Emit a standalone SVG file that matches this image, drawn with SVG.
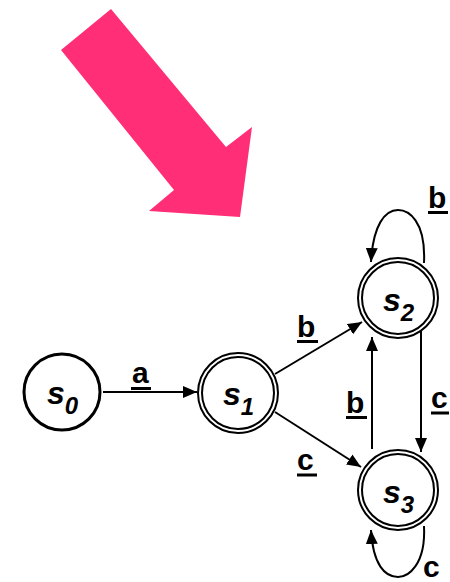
<svg xmlns="http://www.w3.org/2000/svg" width="450" height="582" viewBox="0 0 450 582">
<defs>
<marker id="ah" viewBox="0 0 14 12" refX="14" refY="6" markerWidth="14" markerHeight="12" markerUnits="userSpaceOnUse" orient="auto">
<path d="M0,0 L14,6 L0,12 Z" fill="#000"/>
</marker>
<style>
.st{fill:#fff;stroke:#000}
.edge{fill:none;stroke:#000;stroke-width:2;marker-end:url(#ah)}
.nm{font-family:"Liberation Sans",Arial,sans-serif;font-weight:bold;font-style:italic;font-size:32px;fill:#000}
.sub{font-size:24px}
.lbl{font-family:"Liberation Sans",Arial,sans-serif;font-weight:bold;font-size:30px;fill:#000}
.ul{stroke:#000;stroke-width:3}
</style>
</defs>
<polygon id="pointer" points="61,50 111,9 226,147 252,127 240,217 149,211 174,190" fill="#FF2E77"/>
<g id="connectors">
<line class="edge" x1="103" y1="392" x2="197" y2="392"/>
<line class="edge" x1="275" y1="374" x2="362" y2="322"/>
<line class="edge" x1="275" y1="412" x2="361" y2="467"/>
<line class="edge" x1="372" y1="449" x2="372" y2="337"/>
<line class="edge" x1="421" y1="330" x2="421" y2="452"/>
<path class="edge" d="M424,263 C426,220 408,210 398,210 C385,210 373,225 371,262"/>
<path class="edge" d="M424,526 C426,565 408,577 398,577 C385,577 373,565 371,530"/>
<text class="lbl" x="132" y="383">a</text><line class="ul" x1="131" y1="388.5" x2="151" y2="388.5"/>
<text class="lbl" x="297" y="337">b</text><line class="ul" x1="297" y1="341.5" x2="318" y2="341.5"/>
<text class="lbl" x="297" y="470">c</text><line class="ul" x1="297" y1="475" x2="317" y2="475"/>
<text class="lbl" x="346" y="413">b</text><line class="ul" x1="346" y1="417.5" x2="367" y2="417.5"/>
<text class="lbl" x="431" y="408">c</text><line class="ul" x1="431" y1="413" x2="449" y2="413"/>
<text class="lbl" x="428" y="208">b</text><line class="ul" x1="428" y1="212.5" x2="448" y2="212.5"/>
<text class="lbl" x="423" y="577">c</text>
</g>
<g id="s0">
<circle class="st" cx="62" cy="392" r="38" stroke-width="3"/>
<text class="nm" x="47" y="404">s<tspan class="sub" dy="10">0</tspan></text>
</g>
<g id="s1">
<circle class="st" cx="238" cy="393" r="40" stroke-width="2"/>
<circle class="st" cx="238" cy="393" r="36" stroke-width="2"/>
<text class="nm" x="223" y="405">s<tspan class="sub" dy="10">1</tspan></text>
</g>
<g id="s2">
<circle class="st" cx="398" cy="298" r="40" stroke-width="2"/>
<circle class="st" cx="398" cy="298" r="36" stroke-width="2"/>
<text class="nm" x="383" y="311">s<tspan class="sub" dy="10">2</tspan></text>
</g>
<g id="s3">
<circle class="st" cx="398" cy="490" r="40" stroke-width="2"/>
<circle class="st" cx="398" cy="490" r="36" stroke-width="2"/>
<text class="nm" x="383" y="503">s<tspan class="sub" dy="10">3</tspan></text>
</g>
</svg>
